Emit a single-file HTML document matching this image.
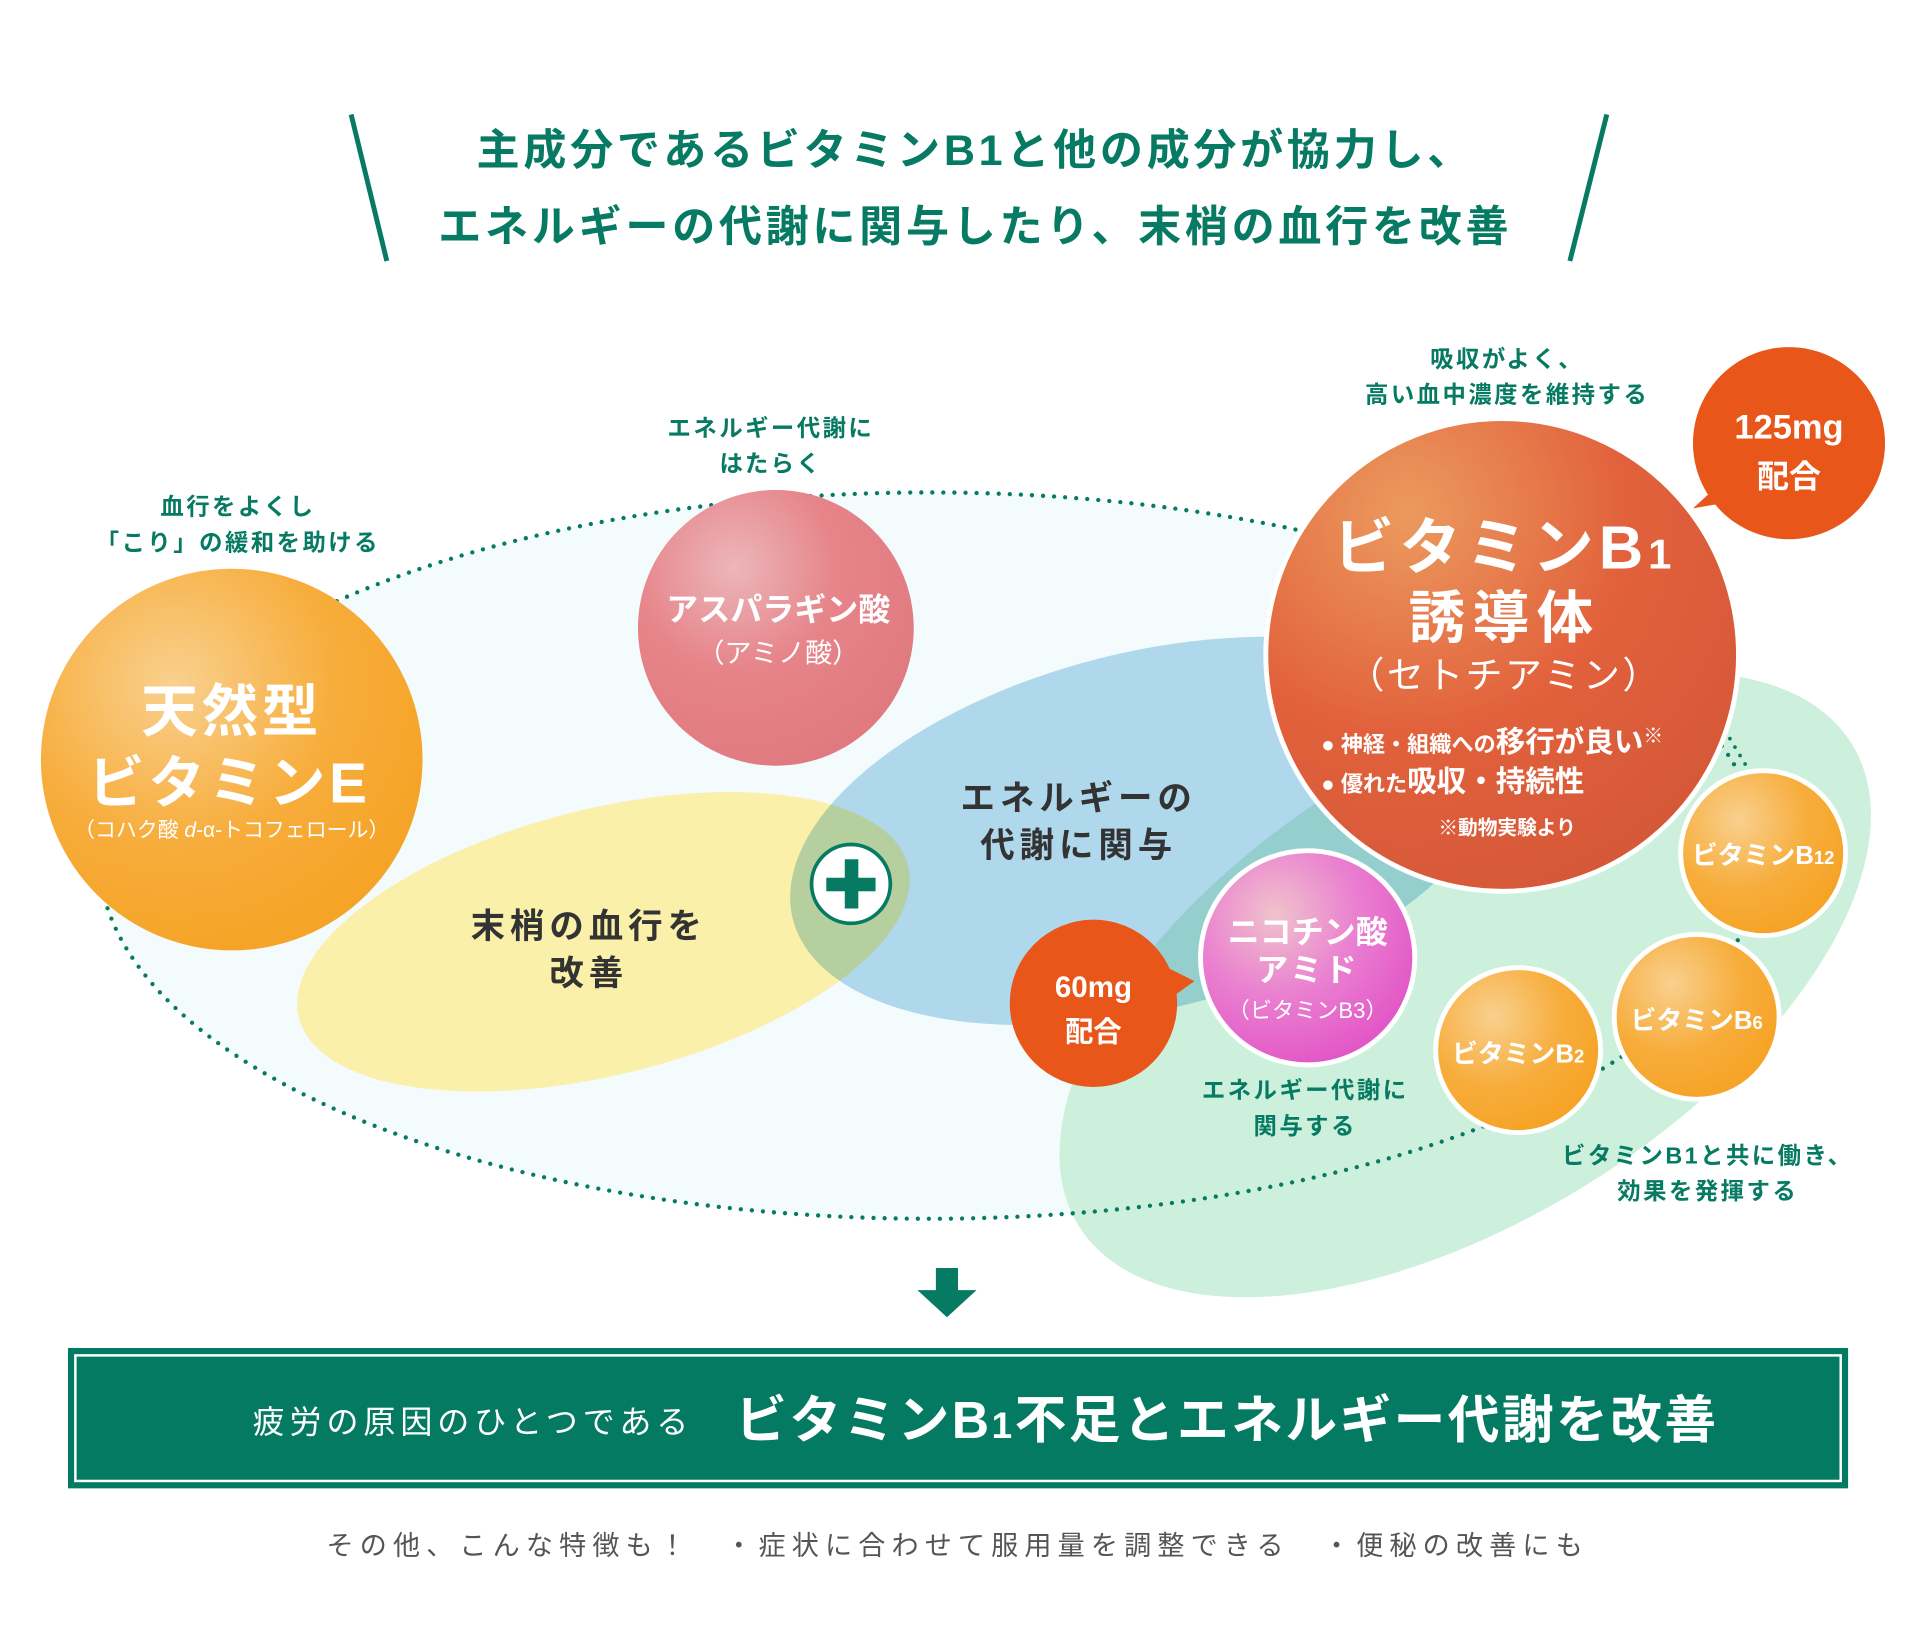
<!DOCTYPE html>
<html><head><meta charset="utf-8"><style>
html,body{margin:0;padding:0;background:#fff;width:1921px;height:1641px;overflow:hidden}
svg{display:block}
text{font-family:"Liberation Sans","Noto Sans CJK JP",sans-serif}
</style></head><body>
<svg width="1921" height="1641" viewBox="0 0 1560 1333" xmlns="http://www.w3.org/2000/svg">
<defs>
<radialGradient id="gO" cx="0.35" cy="0.3" r="0.7"><stop offset="0" stop-color="#f9d08e"/><stop offset="0.6" stop-color="#f7ad3c"/><stop offset="1" stop-color="#f6a427"/></radialGradient>
<radialGradient id="gP" cx="0.35" cy="0.28" r="0.75"><stop offset="0" stop-color="#ecb6ba"/><stop offset="0.5" stop-color="#e68489"/><stop offset="1" stop-color="#e07a80"/></radialGradient>
<radialGradient id="gR" cx="0.3" cy="0.2" r="0.85"><stop offset="0" stop-color="#eb9a5e"/><stop offset="0.55" stop-color="#e2613c"/><stop offset="1" stop-color="#d55838"/></radialGradient>
<radialGradient id="gM" cx="0.35" cy="0.3" r="0.75"><stop offset="0" stop-color="#f0c3cc"/><stop offset="0.5" stop-color="#ea80d0"/><stop offset="1" stop-color="#e254c6"/></radialGradient>
</defs>
<line x1="285" y1="93" x2="314" y2="212" stroke="#067a62" stroke-width="4"/>
<line x1="1305" y1="93" x2="1275" y2="212" stroke="#067a62" stroke-width="4"/>
<text x="792" y="134" text-anchor="middle" font-size="35" font-weight="bold" fill="#067a62" letter-spacing="3">主成分であるビタミンB1と他の成分が協力し、</text>
<text x="792" y="196" text-anchor="middle" font-size="35" font-weight="bold" fill="#067a62" letter-spacing="3">エネルギーの代謝に関与したり、末梢の血行を改善</text>
<ellipse cx="755" cy="695" rx="675" ry="295" fill="#f3fbfc"/>
<ellipse cx="1190" cy="800" rx="370" ry="190" transform="rotate(-32 1190 800)" fill="#ccf0dc"/>
<ellipse cx="490" cy="765" rx="255" ry="108" transform="rotate(-14 490 765)" fill="#faf0aa"/>
<g style="mix-blend-mode:multiply"><ellipse cx="930" cy="675" rx="295" ry="145" transform="rotate(-14 930 675)" fill="#b9dcef"/></g>
<ellipse cx="755" cy="695" rx="675" ry="295" fill="none" stroke="#067a62" stroke-width="3.5" stroke-dasharray="0 9" stroke-linecap="round"/>
<circle cx="188" cy="617" r="155" fill="url(#gO)"/>
<text x="188" y="594" text-anchor="middle" font-size="46" font-weight="bold" fill="#fff" letter-spacing="3">天然型</text>
<text x="186" y="652" text-anchor="middle" font-size="46" font-weight="bold" fill="#fff" letter-spacing="3">ビタミンE</text>
<text x="188" y="680" text-anchor="middle" font-size="17" fill="#fff">（コハク酸 <tspan font-style="italic">d</tspan>-α-トコフェロール）</text>
<circle cx="630" cy="510" r="112" fill="url(#gP)"/>
<text x="632" y="504" text-anchor="middle" font-size="26" font-weight="bold" fill="#fff">アスパラギン酸</text>
<text x="632" y="538" text-anchor="middle" font-size="22" fill="#fff">（アミノ酸）</text>
<circle cx="1220" cy="532" r="192" fill="url(#gR)" stroke="#fff" stroke-width="4"/>
<text x="1222" y="462" text-anchor="middle" font-size="50" font-weight="bold" fill="#fff" letter-spacing="4">ビタミンB<tspan font-size="34">1</tspan></text>
<text x="1222" y="518" text-anchor="middle" font-size="46" font-weight="bold" fill="#fff" letter-spacing="6">誘導体</text>
<text x="1222" y="559" text-anchor="middle" font-size="30" fill="#fff" letter-spacing="2">（セトチアミン）</text>
<text x="1073" y="611" font-size="18" font-weight="bold" fill="#fff">● 神経・組織への<tspan font-size="24">移行が良い</tspan><tspan font-size="16" dy="-8">※</tspan></text>
<text x="1073" y="643" font-size="18" font-weight="bold" fill="#fff">● 優れた<tspan font-size="24">吸収・持続性</tspan></text>
<text x="1224" y="678" text-anchor="middle" font-size="16" font-weight="bold" fill="#fff">※動物実験より</text>
<path d="M1375,413 L1400,390 L1420,405 Z" fill="#e8561a"/>
<circle cx="1453" cy="360" r="78" fill="#e8561a"/>
<text x="1453" y="356" text-anchor="middle" font-size="28" font-weight="bold" fill="#fff">125mg</text>
<text x="1453" y="396" text-anchor="middle" font-size="26" font-weight="bold" fill="#fff">配合</text>
<path d="M1405,600 L1420,625" stroke="#067a62" stroke-width="3" stroke-dasharray="0 8" stroke-linecap="round"/>
<circle cx="1062" cy="778" r="87" fill="url(#gM)" stroke="#fff" stroke-width="4"/>
<text x="1062" y="766" text-anchor="middle" font-size="26" font-weight="bold" fill="#fff">ニコチン酸</text>
<text x="1062" y="797" text-anchor="middle" font-size="26" font-weight="bold" fill="#fff" letter-spacing="2">アミド</text>
<text x="1062" y="827" text-anchor="middle" font-size="18" fill="#fff">（ビタミンB3）</text>
<path d="M940,782 L970,797 L945,815 Z" fill="#e8561a"/>
<circle cx="888" cy="815" r="68" fill="#e8561a"/>
<text x="888" y="810" text-anchor="middle" font-size="24" font-weight="bold" fill="#fff">60mg</text>
<text x="888" y="846" text-anchor="middle" font-size="23" font-weight="bold" fill="#fff">配合</text>
<circle cx="1432" cy="693" r="67" fill="url(#gO)" stroke="#fff" stroke-width="4"/>
<text x="1432" y="702" text-anchor="middle" font-size="21" font-weight="bold" fill="#fff">ビタミンB<tspan font-size="15">12</tspan></text>
<circle cx="1378" cy="826" r="67" fill="url(#gO)" stroke="#fff" stroke-width="4"/>
<text x="1378" y="836" text-anchor="middle" font-size="21" font-weight="bold" fill="#fff">ビタミンB<tspan font-size="15">6</tspan></text>
<circle cx="1233" cy="853" r="67" fill="url(#gO)" stroke="#fff" stroke-width="4"/>
<text x="1233" y="863" text-anchor="middle" font-size="21" font-weight="bold" fill="#fff">ビタミンB<tspan font-size="15">2</tspan></text>
<text x="876" y="658" text-anchor="middle" font-size="28" font-weight="bold" fill="#333" letter-spacing="4">エネルギーの</text>
<text x="876" y="696" text-anchor="middle" font-size="28" font-weight="bold" fill="#333" letter-spacing="4">代謝に関与</text>
<text x="478" y="762" text-anchor="middle" font-size="28" font-weight="bold" fill="#333" letter-spacing="4">末梢の血行を</text>
<text x="478" y="800" text-anchor="middle" font-size="28" font-weight="bold" fill="#333" letter-spacing="4">改善</text>
<circle cx="691" cy="718" r="32" fill="#fff" stroke="#067a62" stroke-width="3"/>
<rect x="686" y="698" width="11" height="40" fill="#067a62"/>
<rect x="671" y="713" width="40" height="11" fill="#067a62"/>
<g font-size="19" fill="#067a62" text-anchor="middle" font-weight="bold" letter-spacing="2">
<text x="193" y="418">血行をよくし</text>
<text x="193" y="447">「こり」の緩和を助ける</text>
<text x="626" y="354">エネルギー代謝に</text>
<text x="626" y="383">はたらく</text>
<text x="1224" y="298">吸収がよく、</text>
<text x="1224" y="327">高い血中濃度を維持する</text>
<text x="1060" y="892">エネルギー代謝に</text>
<text x="1060" y="921">関与する</text>
<text x="1387" y="945">ビタミンB1と共に働き、</text>
<text x="1387" y="974">効果を発揮する</text>
</g>
<rect x="760" y="1030" width="18" height="20" fill="#067a62"/>
<path d="M745,1048 L793,1048 L769,1070 Z" fill="#067a62"/>
<rect x="55" y="1095" width="1446" height="114" fill="#057a63"/>
<rect x="61" y="1101" width="1434" height="102" fill="none" stroke="#fff" stroke-width="2"/>
<text x="205" y="1164" font-size="26" fill="#fff" letter-spacing="4">疲労の原因のひとつである</text>
<text x="597" y="1168" font-size="42" font-weight="bold" fill="#fff" letter-spacing="2">ビタミンB<tspan font-size="30">1</tspan>不足とエネルギー代謝を改善</text>
<text x="265" y="1263" font-size="22" fill="#555" letter-spacing="5">その他、こんな特徴も！　・症状に合わせて服用量を調整できる　・便秘の改善にも</text>
</svg>
</body></html>
